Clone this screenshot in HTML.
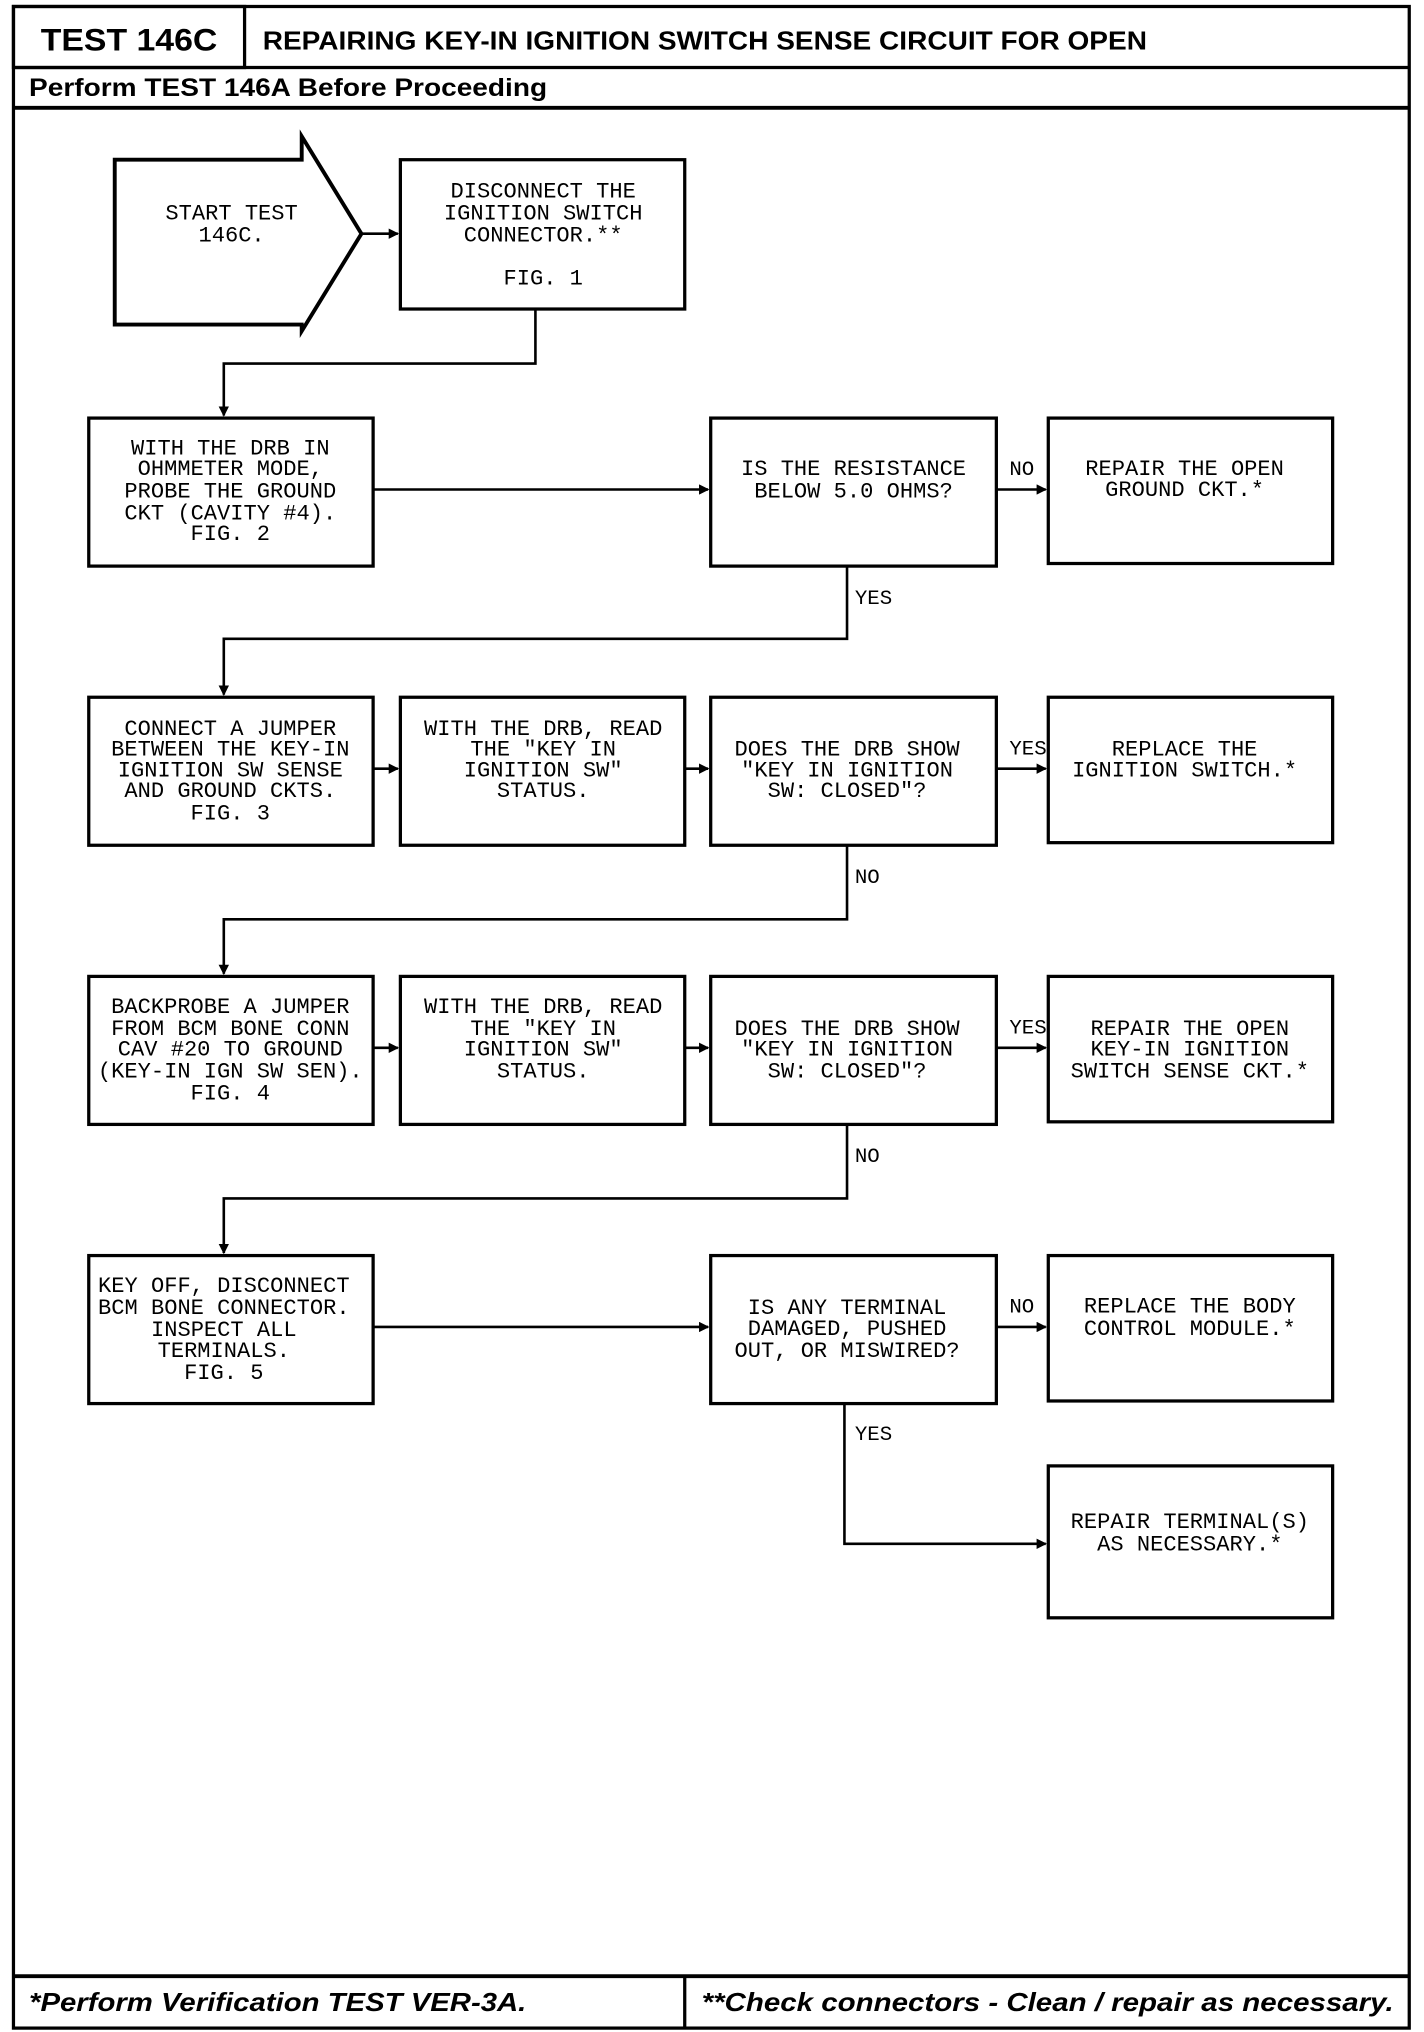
<!DOCTYPE html>
<html><head><meta charset="utf-8"><style>
html,body{margin:0;padding:0;background:#fff;}
svg{display:block;}
.m{font-family:"Liberation Mono",monospace;font-size:17px;fill:#000;}
.l{font-family:"Liberation Mono",monospace;font-size:16px;fill:#000;}
.b{font-family:"Liberation Sans",sans-serif;font-weight:bold;fill:#000;}
</style></head><body>
<svg width="1424" height="2032" viewBox="0 0 1096 1565" xmlns="http://www.w3.org/2000/svg">
<defs><marker id="a" markerWidth="8" markerHeight="8" refX="7" refY="4" orient="auto" markerUnits="userSpaceOnUse"><path d="M0,0 L8,4 L0,8 z" fill="#000"/></marker></defs>
<rect x="0" y="0" width="1096" height="1565" fill="#fff"/>
<g fill="none" stroke="#000" stroke-width="2.5">
<rect x="10" y="5" width="1075" height="1557"/>
<rect x="10" y="5" width="178" height="47"/>
<line x1="10" y1="52" x2="1085" y2="52"/>
<line x1="10" y1="83" x2="1085" y2="83" stroke-width="3"/>
<line x1="10" y1="1522" x2="1085" y2="1522" stroke-width="3"/>
<line x1="527" y1="1522" x2="527" y2="1562"/>
<polygon points="88,123 232,123 232,105 278,180 232,255 232,250 88,250" stroke-width="3"/>
<rect x="308" y="123" width="219" height="115"/>
<rect x="68" y="322" width="219" height="114"/>
<rect x="547" y="322" width="220" height="114"/>
<rect x="807" y="322" width="219" height="112"/>
<rect x="68" y="537" width="219" height="114"/>
<rect x="308" y="537" width="219" height="114"/>
<rect x="547" y="537" width="220" height="114"/>
<rect x="807" y="537" width="219" height="112"/>
<rect x="68" y="752" width="219" height="114"/>
<rect x="308" y="752" width="219" height="114"/>
<rect x="547" y="752" width="220" height="114"/>
<rect x="807" y="752" width="219" height="112"/>
<rect x="68" y="967" width="219" height="114"/>
<rect x="547" y="967" width="220" height="114"/>
<rect x="807" y="967" width="219" height="112"/>
<rect x="807" y="1129" width="219" height="117"/>
</g>
<g fill="none" stroke="#000" stroke-width="2">
<line x1="278" y1="180" x2="306" y2="180" marker-end="url(#a)"/>
<polyline points="412,238 412,280 172,280 172,320" marker-end="url(#a)"/>
<line x1="287" y1="377" x2="545" y2="377" marker-end="url(#a)"/>
<line x1="767" y1="377" x2="805" y2="377" marker-end="url(#a)"/>
<polyline points="652,436 652,492 172,492 172,535" marker-end="url(#a)"/>
<line x1="287" y1="592" x2="306" y2="592" marker-end="url(#a)"/>
<line x1="527" y1="592" x2="545" y2="592" marker-end="url(#a)"/>
<line x1="767" y1="592" x2="805" y2="592" marker-end="url(#a)"/>
<polyline points="652,651 652,708 172,708 172,750" marker-end="url(#a)"/>
<line x1="287" y1="807" x2="306" y2="807" marker-end="url(#a)"/>
<line x1="527" y1="807" x2="545" y2="807" marker-end="url(#a)"/>
<line x1="767" y1="807" x2="805" y2="807" marker-end="url(#a)"/>
<polyline points="652,866 652,923 172,923 172,965" marker-end="url(#a)"/>
<line x1="287" y1="1022" x2="545" y2="1022" marker-end="url(#a)"/>
<line x1="767" y1="1022" x2="805" y2="1022" marker-end="url(#a)"/>
<polyline points="650,1081 650,1189 805,1189" marker-end="url(#a)"/>
</g>
<text class="b" x="99" y="39" font-size="24" text-anchor="middle" textLength="136" lengthAdjust="spacingAndGlyphs">TEST 146C</text>
<text class="b" x="202" y="38" font-size="20" textLength="681" lengthAdjust="spacingAndGlyphs">REPAIRING KEY-IN IGNITION SWITCH SENSE CIRCUIT FOR OPEN</text>
<text class="b" x="22" y="74" font-size="19" textLength="399" lengthAdjust="spacingAndGlyphs">Perform TEST 146A Before Proceeding</text>
<text class="b" x="22" y="1549" font-size="20" font-style="italic" textLength="383" lengthAdjust="spacingAndGlyphs">*Perform Verification TEST VER-3A.</text>
<text class="b" x="540" y="1549" font-size="20" font-style="italic" textLength="533" lengthAdjust="spacingAndGlyphs">**Check connectors - Clean / repair as necessary.</text>
<g class="m" text-anchor="middle">
<text x="178" y="169">START TEST</text><text x="178" y="186">146C.</text>
<text x="418" y="152">DISCONNECT THE</text><text x="418" y="169">IGNITION SWITCH</text><text x="418" y="186">CONNECTOR.**</text><text x="418" y="219">FIG. 1</text>
<text x="177" y="350">WITH THE DRB IN</text><text x="177" y="366">OHMMETER MODE,</text><text x="177" y="383">PROBE THE GROUND</text><text x="177" y="400">CKT (CAVITY #4).</text><text x="177" y="416">FIG. 2</text>
<text x="657" y="366">IS THE RESISTANCE</text><text x="657" y="383">BELOW 5.0 OHMS?</text>
<text x="912" y="366">REPAIR THE OPEN</text><text x="912" y="382">GROUND CKT.*</text>
<text x="177" y="566">CONNECT A JUMPER</text><text x="177" y="582">BETWEEN THE KEY-IN</text><text x="177" y="598">IGNITION SW SENSE</text><text x="177" y="614">AND GROUND CKTS.</text><text x="177" y="631">FIG. 3</text>
<text x="418" y="566">WITH THE DRB, READ</text><text x="418" y="582">THE "KEY IN</text><text x="418" y="598">IGNITION SW"</text><text x="418" y="614">STATUS.</text>
<text x="652" y="582">DOES THE DRB SHOW</text><text x="652" y="598">"KEY IN IGNITION</text><text x="652" y="614">SW: CLOSED"?</text>
<text x="912" y="582">REPLACE THE</text><text x="912" y="598">IGNITION SWITCH.*</text>
<text x="177" y="780">BACKPROBE A JUMPER</text><text x="177" y="797">FROM BCM BONE CONN</text><text x="177" y="813">CAV #20 TO GROUND</text><text x="177" y="830">(KEY-IN IGN SW SEN).</text><text x="177" y="847">FIG. 4</text>
<text x="418" y="780">WITH THE DRB, READ</text><text x="418" y="797">THE "KEY IN</text><text x="418" y="813">IGNITION SW"</text><text x="418" y="830">STATUS.</text>
<text x="652" y="797">DOES THE DRB SHOW</text><text x="652" y="813">"KEY IN IGNITION</text><text x="652" y="830">SW: CLOSED"?</text>
<text x="916" y="797">REPAIR THE OPEN</text><text x="916" y="813">KEY-IN IGNITION</text><text x="916" y="830">SWITCH SENSE CKT.*</text>
<text x="172" y="995">KEY OFF, DISCONNECT</text><text x="172" y="1012">BCM BONE CONNECTOR.</text><text x="172" y="1029">INSPECT ALL</text><text x="172" y="1045">TERMINALS.</text><text x="172" y="1062">FIG. 5</text>
<text x="652" y="1012">IS ANY TERMINAL</text><text x="652" y="1028">DAMAGED, PUSHED</text><text x="652" y="1045">OUT, OR MISWIRED?</text>
<text x="916" y="1011">REPLACE THE BODY</text><text x="916" y="1028">CONTROL MODULE.*</text>
<text x="916" y="1177">REPAIR TERMINAL(S)</text><text x="916" y="1194">AS NECESSARY.*</text>
</g>
<g class="l">
<text x="777" y="366">NO</text>
<text x="658" y="465">YES</text>
<text x="777" y="581">YES</text>
<text x="658" y="680">NO</text>
<text x="777" y="796">YES</text>
<text x="658" y="895">NO</text>
<text x="777" y="1011">NO</text>
<text x="658" y="1109">YES</text>
</g>
</svg>
</body></html>
